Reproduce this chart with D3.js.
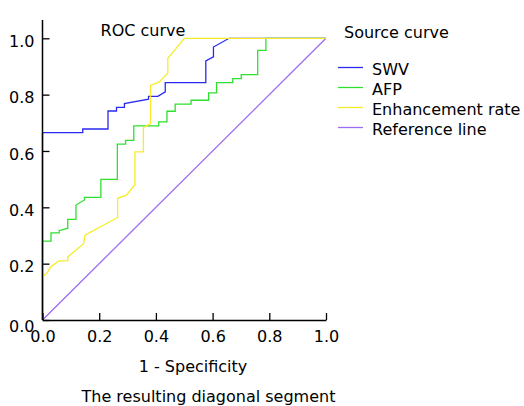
<!DOCTYPE html>
<html>
<head>
<meta charset="utf-8">
<script src="https://cdn.jsdelivr.net/npm/d3@7"></script>
<style>
html,body{margin:0;padding:0;background:#fff;}
svg{display:block;font-family:"DejaVu Sans",Verdana,sans-serif;}
</style>
</head>
<body>
<svg id="chart" width="524" height="406"></svg>
<script>
// ---- Data ----
const seriesNames = ["SWV", "AFP", "Enhancement rate", "Reference line"];
const seriesColors = ["#2a2af2", "#2fe02f", "#f7ec2a", "#9b6cf4"];

const swvPoints = [[0,0],[0,0.665],[0.142,0.665],[0.142,0.678],[0.231,0.678],[0.231,0.742],[0.261,0.742],[0.261,0.755],[0.289,0.755],[0.289,0.768],[0.374,0.784],[0.374,0.794],[0.407,0.794],[0.433,0.81],[0.433,0.843],[0.576,0.843],[0.576,0.92],[0.603,0.934],[0.603,0.969],[0.658,1],[1,1]];

const afpPoints = [[0,0],[0,0.28],[0.03,0.28],[0.03,0.309],[0.059,0.309],[0.059,0.317],[0.089,0.326],[0.089,0.357],[0.118,0.357],[0.118,0.408],[0.148,0.426],[0.148,0.435],[0.206,0.435],[0.206,0.499],[0.264,0.499],[0.264,0.624],[0.293,0.624],[0.293,0.638],[0.322,0.638],[0.322,0.689],[0.41,0.689],[0.41,0.703],[0.439,0.703],[0.439,0.741],[0.468,0.741],[0.468,0.766],[0.524,0.766],[0.524,0.78],[0.586,0.78],[0.586,0.806],[0.614,0.806],[0.614,0.843],[0.671,0.843],[0.671,0.857],[0.701,0.857],[0.701,0.871],[0.759,0.871],[0.759,0.957],[0.788,0.957],[0.788,1],[1,1]];

const enhPoints = [[0,0],[0,0.154],[0.015,0.166],[0.029,0.188],[0.056,0.209],[0.089,0.211],[0.089,0.224],[0.145,0.271],[0.15,0.301],[0.265,0.364],[0.265,0.432],[0.296,0.443],[0.326,0.48],[0.326,0.597],[0.356,0.597],[0.356,0.684],[0.381,0.697],[0.381,0.833],[0.412,0.845],[0.442,0.877],[0.442,0.929],[0.472,0.965],[0.5,1],[1,1]];

const refPoints = [[0,0],[1,1]];

const xTicks = [0, 0.2, 0.4, 0.6, 0.8, 1.0];
const yTicks = [0, 0.2, 0.4, 0.6, 0.8, 1.0];

const titleText = "ROC curve";
const legendTitle = "Source curve";
const xLabel = "1 - Specificity";
const footText = "The resulting diagonal segment";

// ---- Layout ----
const svg = d3.select("#chart");
const x = d3.scaleLinear().domain([0, 1]).range([42.5, 326]);
const y = d3.scaleLinear().domain([0, 1]).range([320, 38.3]);

// curves (drawn in order: reference first so others overlay)
const line = d3.line().x(d => x(d[0])).y(d => y(d[1]));
const series = [swvPoints, afpPoints, enhPoints, refPoints];
const drawOrder = [3, 1, 0, 2];
drawOrder.forEach(i => {
  svg.append("path")
    .attr("d", line(series[i]))
    .attr("fill", "none")
    .attr("stroke", seriesColors[i])
    .attr("stroke-width", 1.3)
    .attr("stroke-linejoin", "miter");
});

// axes
const xAxis = d3.axisBottom(x).tickValues(xTicks).tickSizeInner(-7).tickSizeOuter(0)
  .tickFormat(d3.format(".1f"));
const gx = svg.append("g").attr("transform", `translate(0,${y(0)})`).call(xAxis);
gx.select(".domain").attr("stroke", "#000").attr("stroke-width", 1.5);
gx.selectAll(".tick line").attr("stroke", "#000").attr("stroke-width", 1.3);
gx.selectAll(".tick text").attr("font-size", 16).attr("fill", "#000")
  .attr("font-family", "DejaVu Sans").attr("y", 0).attr("dy", 0)
  .attr("transform", "translate(0,22)");

// y axis: line extends above 1.0
svg.append("line").attr("x1", x(0)).attr("x2", x(0)).attr("y1", 20).attr("y2", y(0))
  .attr("stroke", "#000").attr("stroke-width", 1.5);
const yAxis = d3.axisLeft(y).tickValues(yTicks).tickSizeInner(-7).tickSizeOuter(0)
  .tickFormat(d3.format(".1f"));
const gy = svg.append("g").attr("transform", `translate(${x(0)},0)`).call(yAxis);
gy.select(".domain").remove();
gy.selectAll(".tick line").attr("stroke", "#000").attr("stroke-width", 1.3);
gy.selectAll(".tick text").attr("font-size", 16).attr("fill", "#000")
  .attr("font-family", "DejaVu Sans").attr("x", -8).attr("dy", null)
  .attr("y", d => d === 0 ? 11.7 : 8.3);

// title
svg.append("text").attr("x", 143).attr("y", 35.7).attr("text-anchor", "middle")
  .attr("font-size", 16).attr("fill", "#000").text(titleText);

// x label & foot
svg.append("text").attr("x", 193).attr("y", 371.7).attr("text-anchor", "middle")
  .attr("font-size", 16).attr("fill", "#000").text(xLabel);
svg.append("text").attr("x", 208.5).attr("y", 402).attr("text-anchor", "middle")
  .attr("font-size", 16).attr("fill", "#000").text(footText);

// legend
svg.append("text").attr("x", 344).attr("y", 38.3).attr("font-size", 16)
  .attr("fill", "#000").text(legendTitle);
const lg = svg.append("g");
seriesNames.forEach((name, i) => {
  const ly = 67.5 + 20 * i;
  lg.append("line").attr("x1", 338).attr("x2", 363).attr("y1", ly).attr("y2", ly)
    .attr("stroke", seriesColors[i]).attr("stroke-width", 1.3);
  lg.append("text").attr("x", 372).attr("y", ly + 7.5).attr("font-size", 16)
    .attr("fill", "#000").text(name);
});
</script>
</body>
</html>
